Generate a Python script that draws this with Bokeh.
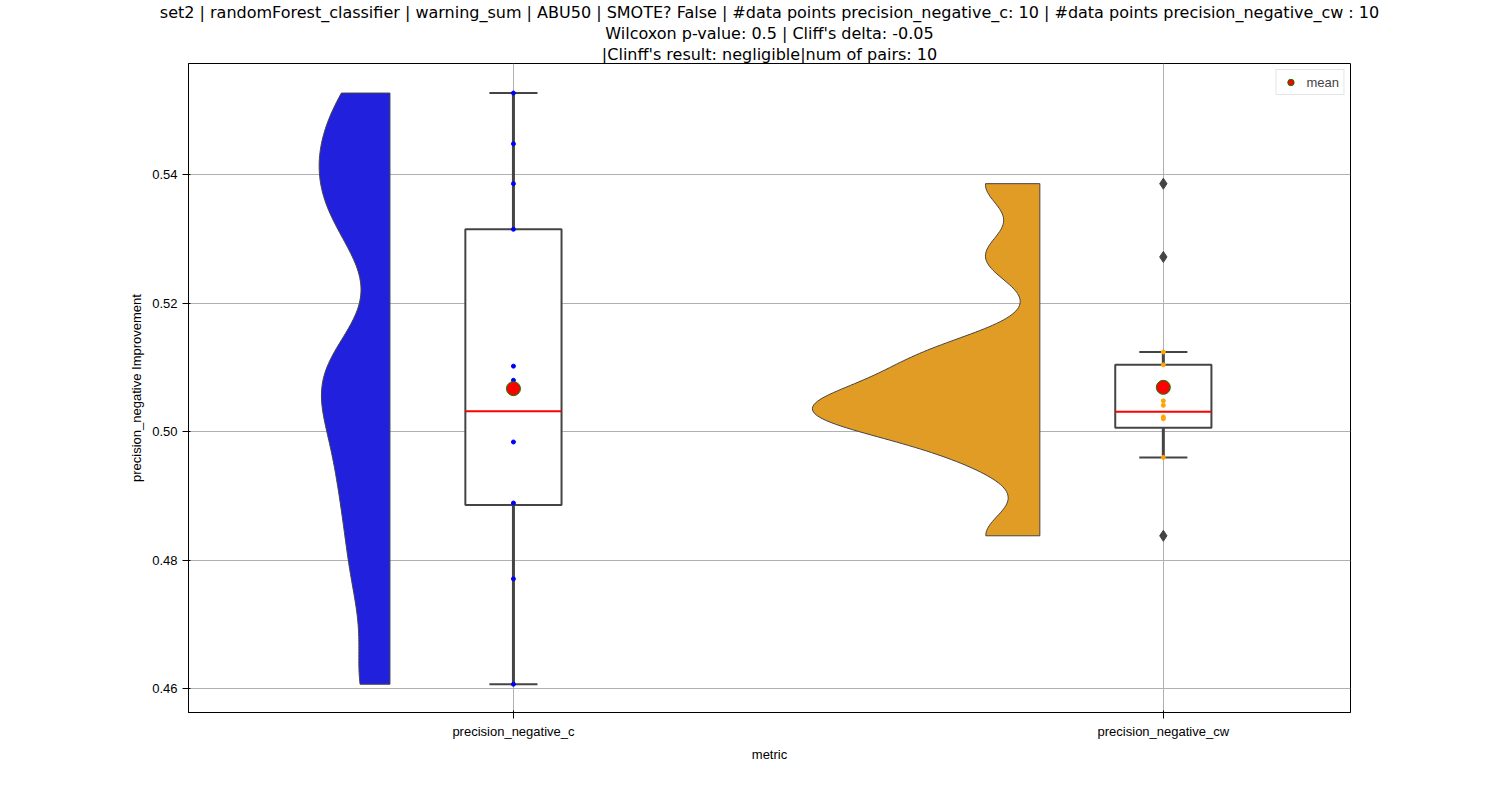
import numpy as np
from bokeh.plotting import figure
from bokeh.models import Title, FixedTicker, Legend, LegendItem, NumeralTickFormatter
from bokeh.embed import file_html
from bokeh.resources import INLINE

metrics = ["precision_negative_c", "precision_negative_cw"]
values_c = [0.5527, 0.5448, 0.5386, 0.5315, 0.5102, 0.5080, 0.4984, 0.4889, 0.4771, 0.4607]
values_cw = [0.5386, 0.5272, 0.5124, 0.5104, 0.5048, 0.5041, 0.5023, 0.5020, 0.4960, 0.4838]
# box stats as drawn: whisker low, q1, median, q3, whisker high
box_c = [0.4607, 0.4886, 0.5032, 0.5315, 0.5527]
box_cw = [0.4960, 0.5006, 0.5031, 0.5104, 0.5124]
outliers_cw = [0.5386, 0.5272, 0.4838]
means = [0.5067, 0.5069]
violin_colors = ["#2121dd", "#e09c24"]
point_colors = ["blue", "orange"]

p = figure(width=1484, height=784, output_backend="svg", toolbar_location=None,
           x_range=(-0.5, 1.288), y_range=(0.4563, 0.5573),
           x_axis_label="metric", y_axis_label="precision_negative Improvement",
           min_border_left=188, min_border_right=134, min_border_bottom=72, min_border_top=0)

titles = ["set2 | randomForest_classifier | warning_sum | ABU50 | SMOTE? False | #data points precision_negative_c: 10 | #data points precision_negative_cw : 10",
          "Wilcoxon p-value: 0.5 | Cliff's delta: -0.05",
          "|Clinff's result: negligible|num of pairs: 10"]
p.title.visible = False
for j, t in enumerate(reversed(titles)):
    p.add_layout(Title(text=t, align="center", text_font_size="16px", text_color="black",
                       text_font_style="normal", text_font="DejaVu Sans",
                       standoff=0, offset=0,
                       text_line_height=1.0,
                       ), "above")

p.xaxis.ticker = FixedTicker(ticks=[0, 1])
p.xaxis.major_label_overrides = {0: metrics[0], 1: metrics[1]}
p.yaxis.ticker = FixedTicker(ticks=[0.46, 0.48, 0.50, 0.52, 0.54])
p.yaxis.formatter = NumeralTickFormatter(format="0.00")
for ax in (p.xaxis, p.yaxis):
    ax.axis_label_text_font_style = "normal"
    ax.axis_label_text_font_size = "13px"
    ax.axis_label_text_color = "black"
    ax.major_label_text_font_size = "13px"
    ax.major_label_text_color = "black"
    ax.minor_tick_line_color = None
    ax.axis_line_color = "black"
p.grid.grid_line_color = "#b0b0b0"
p.xgrid.ticker = FixedTicker(ticks=[0, 1])
p.outline_line_color = "black"

# half violins (kde, cut at data range)
dens = []
for vals in (values_c, values_cw):
    v = np.array(vals)
    bw = 0.25 * v.std(ddof=1)
    ys = np.linspace(v.min(), v.max(), 200)
    d = np.exp(-0.5 * ((ys[:, None] - v[None, :]) / bw) ** 2).sum(1) / (len(v) * bw)
    dens.append((ys, d))
k = 0.35 / max(d.max() for _, d in dens)
for i, (ys, d) in enumerate(dens):
    edge = i - 0.19
    xs = np.concatenate([edge - d * k, [edge, edge]])
    yy = np.concatenate([ys, [ys[-1], ys[0]]])
    p.patch(xs, yy, fill_color=violin_colors[i], line_color="#444444", line_width=1)

# boxes
for i, b in enumerate((box_c, box_cw)):
    p.segment([i, i], [b[0], b[3]], [i, i], [b[1], b[4]], line_color="#444444", line_width=3)
    p.segment([i - 0.037] * 2, [b[0], b[4]], [i + 0.037] * 2, [b[0], b[4]], line_color="#444444", line_width=2)
    p.quad(left=i - 0.074, right=i + 0.074, bottom=b[1], top=b[3],
           fill_color="white", line_color="#444444", line_width=2)
    p.segment(i - 0.074, b[2], i + 0.074, b[2], line_color="red", line_width=2)

for i, vals in enumerate((values_c, values_cw)):
    p.scatter([i] * len(vals), vals, size=4, color=point_colors[i])
p.scatter([1] * len(outliers_cw), outliers_cw, marker="diamond", size=11, color="#444444")

m = p.scatter([0, 1], means, size=14, fill_color="red", line_color="green", line_width=1)
legend = Legend(items=[LegendItem(label="mean", renderers=[m])], location="top_right",
                label_text_font_size="13px", border_line_color="#cccccc",
                padding=4, margin=6, glyph_width=20, glyph_height=16, label_standoff=6)
p.add_layout(legend)

open("out.html", "w").write(file_html(p, INLINE))
